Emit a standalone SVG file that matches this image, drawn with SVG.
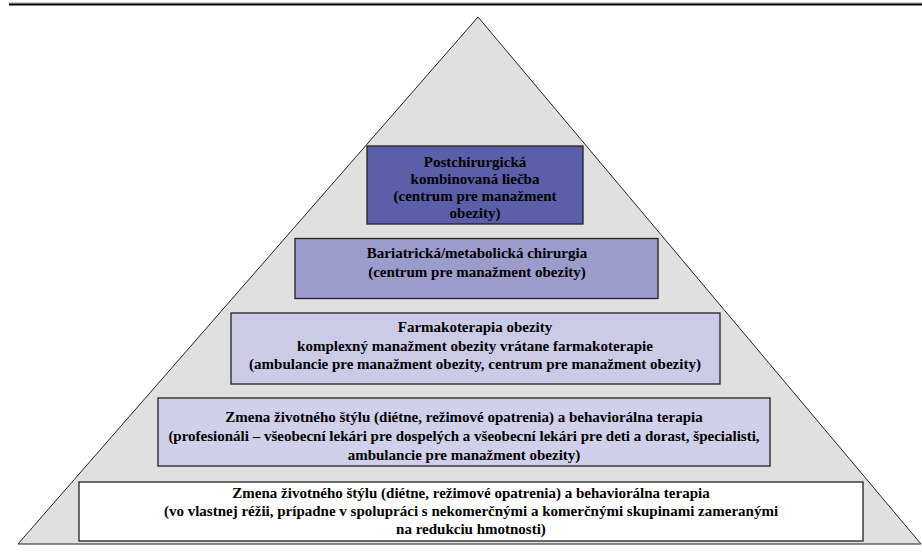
<svg xmlns="http://www.w3.org/2000/svg" width="922" height="553" viewBox="0 0 922 553">
<style>
.box{stroke:#222;stroke-width:1.3}
text{font-family:'Liberation Serif','Times New Roman',Times,serif;font-weight:bold;font-size:15px;fill:#000;text-anchor:middle}
</style>
<rect x="0" y="0" width="922" height="553" fill="#fff"/>
<rect x="9" y="2.5" width="913" height="1" fill="#999"/>
<rect x="9" y="3.5" width="913" height="2" fill="#000"/>
<g id="pyramid">
<polygon points="478,17 921,544 18,544" fill="#e0e0e0" stroke="#222" stroke-width="1"/>
</g>
<g id="level5" font-family="Liberation Serif, serif">
<rect class="box" x="367" y="146" width="216" height="78" fill="#5b5ea8"/>
<text x="475" y="167">Postchirurgická</text>
<text x="475" y="184">kombinovaná liečba</text>
<text x="475" y="201">(centrum pre manažment</text>
<text x="475" y="217.5">obezity)</text>
</g>
<g id="level4">
<rect class="box" x="295" y="238.5" width="363" height="60" fill="#9b9bcc"/>
<text x="477" y="257.5">Bariatrická/metabolická chirurgia</text>
<text x="477" y="276.5">(centrum pre manažment obezity)</text>
</g>
<g id="level3">
<rect class="box" x="231" y="313" width="489" height="71" fill="#cbcbe7"/>
<text x="475" y="331.5">Farmakoterapia obezity</text>
<text x="475" y="350.5">komplexný manažment obezity vrátane farmakoterapie</text>
<text x="475" y="369">(ambulancie pre manažment obezity, centrum pre manažment obezity)</text>
</g>
<g id="level2">
<rect class="box" x="158" y="398" width="612" height="68" fill="#d0d0ea"/>
<text x="464" y="422">Zmena životného štýlu (diétne, režimové opatrenia) a behaviorálna terapia</text>
<text x="464" y="441">(profesionáli – všeobecní lekári pre dospelých a všeobecní lekári pre deti a dorast, špecialisti,</text>
<text x="464" y="460">ambulancie pre manažment obezity)</text>
</g>
<g id="level1">
<rect class="box" x="79" y="482" width="784" height="59" fill="#fff"/>
<text x="471" y="498">Zmena životného štýlu (diétne, režimové opatrenia) a behaviorálna terapia</text>
<text x="471" y="516">(vo vlastnej réžii, prípadne v spolupráci s nekomerčnými a komerčnými skupinami zameranými</text>
<text x="471" y="534">na redukciu hmotnosti)</text>
</g>
<g id="connectors"></g>
</svg>
